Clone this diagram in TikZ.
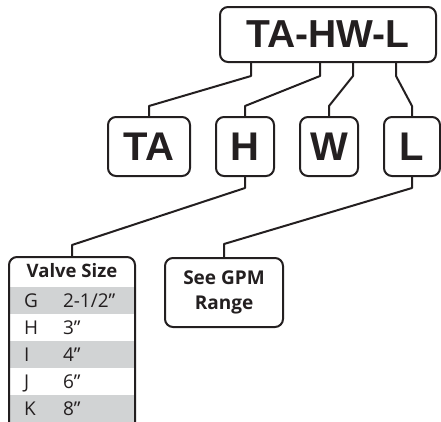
\documentclass[tikz,border=0pt]{standalone}
\usepackage{fontspec}
\setmainfont{Open Sans}
\newfontfamily\heavy{Liberation Sans}
\usetikzlibrary{positioning}
\definecolor{ink}{HTML}{231F20}
\definecolor{band}{HTML}{D1D3D4}

\begin{document}
\begin{tikzpicture}[x=1pt, y=-1pt, line width=2pt,
  box/.style={draw=ink, rounded corners=8pt, inner sep=0pt, text=ink},
  code/.style={box, minimum height=59pt, font=\heavy\bfseries\fontsize{40}{40}\selectfont},
  cell/.style={inner sep=0pt, anchor=base west, text=ink, font=\fontsize{19}{19}\selectfont},
  link/.style={draw=ink, line join=round}]
  \useasboundingbox (0,0) rectangle (441,421);
  % model number and its four parts
  \node[box, minimum width=216pt, minimum height=55pt, font=\heavy\bfseries\fontsize{39}{39}\selectfont] (model) at (328,34.5) {TA-HW-L};
  \node[code, minimum width=82pt] (ta) at (149,146.5) {TA};
  \node[code, minimum width=58pt] (h) at (245,146.5) {H};
  \node[code, minimum width=58pt] (w) at (329,146.5) {W};
  \node[code, minimum width=56pt] (l) at (412,146.5) {L};
  \draw[link] ([xshift=-77pt]model.south) -- ++(0,13) -- ([yshift=10pt]ta.north) -- (ta.north);
  \draw[link] ([xshift=-8pt]model.south) -- ++(0,13) -- ([yshift=10pt]h.north) -- (h.north);
  \draw[link] ([xshift=25pt]model.south) -- ++(0,13) -- ([yshift=10pt]w.north) -- (w.north);
  \draw[link] ([xshift=68pt]model.south) -- ++(0,13) -- ([yshift=10pt]l.north) -- (l.north);

  % size table (bands first, then the frame)
  \foreach \yy in {287,341,395}
    \fill[band] (10,\yy) rectangle (134,\yy+27);
  \node[box, minimum width=126pt, minimum height=190pt, anchor=north] (valve) at (72,256) {};
  \node[inner sep=0pt, anchor=base, text=ink, font=\bfseries\fontsize{18.5}{18.5}\selectfont] (head) at (72,277) {Valve Size};
  \foreach \ltr/\size [count=\i] in {G/{2-1/2"},H/{3"},I/{4"},J/{6"},K/{8"}} {
    \node[cell] (ltr\i) at (23,280+27*\i) {\ltr};
    \node[cell] (size\i) at (62,280+27*\i) {\size};
  }

  % flow rate note
  \node[box, minimum width=118pt, minimum height=69pt, align=center, font=\bfseries\fontsize{19}{25}\selectfont] (gpm) at (224,292.5) {See GPM\\Range};
  \draw[link] (h.south) -- ++(0,11) -- ([yshift=11pt]valve.north) -- (valve.north);
  \draw[link] (l.south) -- ++(0,11) -- ([yshift=13pt]gpm.north) -- (gpm.north);
\end{tikzpicture}
\end{document}
